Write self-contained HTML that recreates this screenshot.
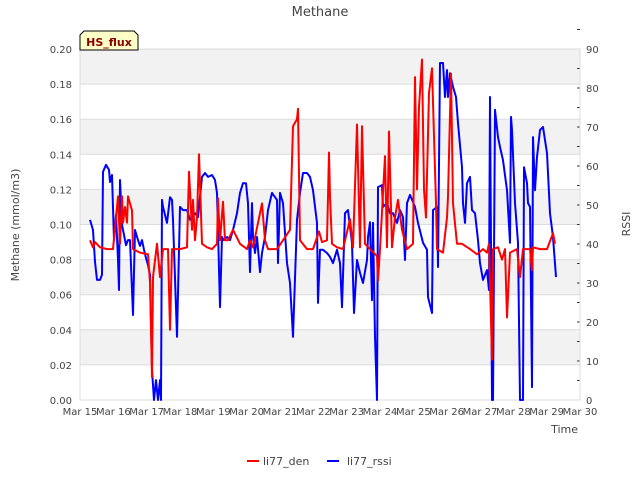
<!DOCTYPE html>
<html><head><meta charset="utf-8"><style>
body{margin:0;background:#fff;font-family:"DejaVu Sans","Liberation Sans",sans-serif;}
svg{display:block}
text{font-family:"DejaVu Sans","Liberation Sans",sans-serif;fill:#444}
</style></head><body>
<svg id="chart" width="640" height="480" viewBox="0 0 640 480" xmlns="http://www.w3.org/2000/svg">
<text x="320" y="16" font-size="13" text-anchor="middle">Methane</text>
<g id="bands"></g><g id="grid"></g>
<g id="axes"></g>
<g id="series"></g>
<g>
<path d="M80,50 L80,35 L84,31 L134,31 L138,35 L138,50 Z" fill="#ffffc8" stroke="#000" stroke-width="1"/>
<text x="109" y="46" font-size="11" font-weight="bold" text-anchor="middle" style="fill:#8b0000">HS_flux</text>
</g>
<text transform="translate(19,225) rotate(-90)" font-size="11" text-anchor="middle">Methane (mmol/m3)</text>
<text transform="translate(630,224) rotate(-90)" font-size="11" text-anchor="middle">RSSI</text>
<text x="578" y="433" font-size="11" text-anchor="end">Time</text>
<g>
<g><line x1="247" y1="461" x2="259" y2="461" stroke="#f00" stroke-width="2"/><text x="263" y="465" font-size="11">li77_den</text></g>
<g><line x1="327" y1="461" x2="339" y2="461" stroke="#00f" stroke-width="2"/><text x="347" y="465" font-size="11">li77_rssi</text></g>
</g>
</svg>
<script>
const xTickLabels=["Mar 15","Mar 16","Mar 17","Mar 18","Mar 19","Mar 20","Mar 21","Mar 22","Mar 23","Mar 24","Mar 25","Mar 26","Mar 27","Mar 28","Mar 29","Mar 30"];
const yTicks=[0,0.02,0.04,0.06,0.08,0.10,0.12,0.14,0.16,0.18,0.20];
const y2Ticks=[0,10,20,30,40,50,60,70,80,90];
const rssiDays=[0.30,0.39,0.45,0.51,0.60,0.66,0.69,0.78,0.87,0.90,0.96,1.02,1.08,1.14,1.17,1.20,1.26,1.32,1.38,1.44,1.50,1.59,1.65,1.74,1.80,1.86,1.92,1.98,2.04,2.10,2.16,2.22,2.28,2.34,2.40,2.43,2.46,2.49,2.61,2.70,2.76,2.79,2.91,3.00,3.09,3.21,3.30,3.45,3.54,3.66,3.75,3.84,3.96,4.05,4.11,4.20,4.26,4.29,4.41,4.50,4.59,4.71,4.80,4.89,4.98,5.04,5.10,5.16,5.19,5.25,5.31,5.40,5.46,5.55,5.64,5.76,5.91,5.94,6.00,6.09,6.21,6.30,6.39,6.51,6.60,6.69,6.81,6.90,6.99,7.11,7.14,7.20,7.29,7.41,7.50,7.59,7.71,7.80,7.86,7.95,8.04,8.16,8.22,8.31,8.40,8.49,8.61,8.64,8.70,8.76,8.79,8.85,8.91,8.94,9.06,9.09,9.21,9.30,9.39,9.51,9.60,9.69,9.75,9.81,9.90,10.05,10.14,10.29,10.41,10.44,10.56,10.59,10.71,10.74,10.80,10.89,10.95,11.01,11.04,11.10,11.19,11.28,11.34,11.46,11.49,11.55,11.61,11.70,11.76,11.85,11.94,12.00,12.09,12.21,12.27,12.30,12.36,12.39,12.45,12.54,12.60,12.69,12.81,12.90,12.93,12.96,13.05,13.14,13.20,13.29,13.32,13.41,13.44,13.50,13.56,13.59,13.65,13.71,13.80,13.89,14.01,14.10,14.19,14.28];
const rssiValues=[46.2,43.6,35.4,30.8,30.8,32.1,58.5,60.3,59.0,55.9,57.7,41.0,47.4,35.9,28.2,56.4,44.9,42.3,39.7,41.0,41.0,21.8,43.6,41.0,39.5,41.0,38.5,36.4,34.6,32.1,7.7,0,5.1,0,5.1,0,51.3,49.5,45.4,52.0,51.3,46.2,16.2,49.5,48.7,48.7,46.2,47.9,46.9,57.2,58.2,57.2,57.7,56.4,53.1,23.8,41.8,41.0,41.8,41.0,43.6,47.9,53.1,55.6,55.6,50.5,32.8,50.5,41.8,37.7,41.8,32.8,37.7,41.8,48.7,53.1,51.3,35.1,53.1,50.5,35.1,30.0,16.2,46.2,53.1,58.2,58.2,57.2,53.8,45.4,24.9,38.5,38.5,37.7,36.7,35.1,38.5,35.1,23.8,47.9,48.7,40.3,22.3,35.9,32.6,30.0,35.9,41.8,45.6,25.6,45.4,16.2,0,54.6,55.1,49.5,50.5,47.9,47.9,45.4,48.7,46.9,35.9,50.5,52.6,49.5,45.4,40.3,38.5,26.4,22.3,48.7,49.5,34.1,86.4,86.4,77.7,84.6,77.7,83.8,80.3,77.7,71.0,59.7,50.5,45.4,55.6,57.2,48.7,47.9,41.0,35.1,30.8,33.3,28.2,77.7,0,0,74.4,67.4,64.9,61.5,53.8,40.3,72.6,69.2,50.5,40.3,0,0,59.7,55.6,50.5,49.5,3.3,67.4,53.8,62.3,69.2,70.0,63.3,47.9,41.8,31.5];
const denDays=[0.30,0.39,0.45,0.60,0.81,0.99,1.14,1.20,1.26,1.29,1.35,1.41,1.44,1.56,1.59,1.80,2.04,2.10,2.16,2.19,2.31,2.40,2.49,2.64,2.70,2.76,3.00,3.21,3.27,3.36,3.39,3.45,3.51,3.57,3.66,3.81,3.96,4.11,4.14,4.20,4.29,4.35,4.44,4.59,4.80,5.01,5.10,5.19,5.46,5.55,5.64,5.91,6.09,6.30,6.39,6.51,6.54,6.60,6.81,6.99,7.17,7.26,7.41,7.47,7.50,7.56,7.71,7.89,8.10,8.19,8.31,8.40,8.46,8.55,8.70,8.91,8.94,9.00,9.15,9.21,9.27,9.36,9.45,9.54,9.66,9.81,9.99,10.05,10.11,10.17,10.26,10.32,10.38,10.47,10.56,10.68,10.71,10.89,11.01,11.04,11.13,11.19,11.31,11.46,11.70,11.91,12.09,12.21,12.27,12.36,12.39,12.54,12.66,12.75,12.81,12.90,13.11,13.20,13.29,13.50,13.56,13.59,13.80,14.01,14.19,14.25];
const denValues=[0.091,0.087,0.090,0.087,0.086,0.086,0.116,0.089,0.116,0.101,0.110,0.101,0.116,0.108,0.086,0.084,0.083,0.067,0.013,0.070,0.089,0.070,0.086,0.086,0.040,0.086,0.086,0.087,0.130,0.097,0.114,0.091,0.104,0.140,0.089,0.087,0.086,0.089,0.115,0.091,0.113,0.091,0.091,0.097,0.089,0.086,0.091,0.087,0.112,0.091,0.086,0.086,0.091,0.097,0.156,0.160,0.166,0.091,0.086,0.086,0.096,0.090,0.091,0.141,0.116,0.089,0.087,0.086,0.103,0.087,0.157,0.087,0.156,0.089,0.086,0.082,0.068,0.086,0.139,0.087,0.153,0.087,0.104,0.114,0.097,0.086,0.089,0.184,0.120,0.167,0.194,0.120,0.104,0.175,0.189,0.112,0.086,0.084,0.104,0.116,0.186,0.112,0.089,0.089,0.086,0.083,0.086,0.084,0.089,0.023,0.086,0.087,0.080,0.086,0.047,0.084,0.086,0.070,0.086,0.086,0.074,0.087,0.086,0.086,0.095,0.089];

const NS="http://www.w3.org/2000/svg";
const L=80,R=580,T=49,B=400;
const xS=d=>L+(R-L)*d/15;
const yS=v=>B-(B-T)*v/0.2;
const y2S=v=>B-(B-T)*v/90;
function mk(tag,attrs,parent){const e=document.createElementNS(NS,tag);for(const k in attrs)e.setAttribute(k,attrs[k]);document.getElementById(parent).appendChild(e);return e;}
for(let i=0;i<yTicks.length-1;i++){
  if(i%2===1){const r=mk('rect',{x:L,y:yS(yTicks[i+1]),width:R-L,height:yS(yTicks[i])-yS(yTicks[i+1]),fill:'#f2f2f2'},'bands');
  
  }
}
yTicks.forEach(v=>{
  const g=mk('line',{x1:L,x2:R,y1:yS(v),y2:yS(v),stroke:'#dcdcdc','stroke-width':1},'grid');
  
  
  const t=mk('text',{x:L-8,y:yS(v)+4,'font-size':10,'text-anchor':'end'},'axes');
  
  
  t.textContent=v.toFixed(2);
});
y2Ticks.forEach(v=>{
  mk('line',{x1:R-3,x2:R,y1:y2S(v),y2:y2S(v),stroke:'#333'},'axes');
  mk('line',{x1:R-3,x2:R,y1:y2S(v+5),y2:y2S(v+5),stroke:'#333'},'axes');
  const t=mk('text',{x:R+6,y:y2S(v)+4,'font-size':10,'text-anchor':'start'},'axes');
  
  
  t.textContent=v;
});
xTickLabels.forEach((s,i)=>{
  const t=mk('text',{x:xS(i),y:B+15,'font-size':10,'text-anchor':'middle'},'axes');
  
  
  t.textContent=s;
});
const frame=mk('rect',{x:L,y:T,width:R-L,height:B-T,fill:'none',stroke:'#dcdcdc'},'axes');


const pr=rssiDays.map((d,i)=>xS(d).toFixed(1)+','+y2S(rssiValues[i]).toFixed(1)).join(' ');
const lr=mk('polyline',{points:pr,fill:'none',stroke:'#0000ff','stroke-width':2,'stroke-linejoin':'round'},'series');


const pd=denDays.map((d,i)=>xS(d).toFixed(1)+','+yS(denValues[i]).toFixed(1)).join(' ');
const ld=mk('polyline',{points:pd,fill:'none',stroke:'#ff0000','stroke-width':2,'stroke-linejoin':'round'},'series');


</script>
</body></html>
